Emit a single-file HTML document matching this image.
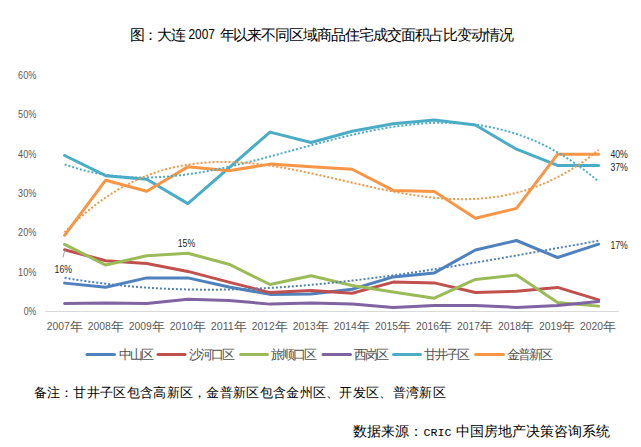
<!DOCTYPE html>
<html><head><meta charset="utf-8"><style>
html,body{margin:0;padding:0;background:#fff;}
body{width:641px;height:447px;overflow:hidden;position:relative;font-family:"Liberation Sans",sans-serif;}
svg{position:absolute;left:0;top:0;}
.ax text{font-size:10px;fill:#595959;}
.ax text.cj{font-size:12.5px;}
.lg text{font-size:12.5px;fill:#505050;}
.dl text{font-size:11px;fill:#262626;}
.t text{font-size:14.5px;fill:#000;}
</style></head><body>
<svg width="641" height="447" viewBox="0 0 641 447">
<g class="t">
<text x="129.5" y="40" textLength="56" lengthAdjust="spacing">图：大连</text>
<text x="188.5" y="39" textLength="26.5" lengthAdjust="spacingAndGlyphs">2007</text>
<text x="219.5" y="40" textLength="294" lengthAdjust="spacing">年以来不同区域商品住宅成交面积占比变动情况</text>
</g>
<line x1="45" y1="311.5" x2="619" y2="311.5" stroke="#D9D9D9" stroke-width="1"/>
<g class="ax"><text x="23.8" y="315.0" textLength="12.5" lengthAdjust="spacingAndGlyphs">0%</text><text x="18.1" y="275.6" textLength="18.2" lengthAdjust="spacingAndGlyphs">10%</text><text x="18.1" y="236.3" textLength="18.2" lengthAdjust="spacingAndGlyphs">20%</text><text x="18.1" y="197.0" textLength="18.2" lengthAdjust="spacingAndGlyphs">30%</text><text x="18.1" y="157.7" textLength="18.2" lengthAdjust="spacingAndGlyphs">40%</text><text x="18.1" y="118.3" textLength="18.2" lengthAdjust="spacingAndGlyphs">50%</text><text x="18.1" y="79.0" textLength="18.2" lengthAdjust="spacingAndGlyphs">60%</text><text x="46.7" y="330" textLength="23" lengthAdjust="spacingAndGlyphs" style="font-size:10.5px">2007</text><text x="70.1" y="331.3" class="cj">年</text><text x="87.7" y="330" textLength="23" lengthAdjust="spacingAndGlyphs" style="font-size:10.5px">2008</text><text x="111.1" y="331.3" class="cj">年</text><text x="128.7" y="330" textLength="23" lengthAdjust="spacingAndGlyphs" style="font-size:10.5px">2009</text><text x="152.1" y="331.3" class="cj">年</text><text x="169.8" y="330" textLength="23" lengthAdjust="spacingAndGlyphs" style="font-size:10.5px">2010</text><text x="193.2" y="331.3" class="cj">年</text><text x="210.8" y="330" textLength="23" lengthAdjust="spacingAndGlyphs" style="font-size:10.5px">2011</text><text x="234.2" y="331.3" class="cj">年</text><text x="251.8" y="330" textLength="23" lengthAdjust="spacingAndGlyphs" style="font-size:10.5px">2012</text><text x="275.2" y="331.3" class="cj">年</text><text x="292.8" y="330" textLength="23" lengthAdjust="spacingAndGlyphs" style="font-size:10.5px">2013</text><text x="316.2" y="331.3" class="cj">年</text><text x="333.8" y="330" textLength="23" lengthAdjust="spacingAndGlyphs" style="font-size:10.5px">2014</text><text x="357.2" y="331.3" class="cj">年</text><text x="374.9" y="330" textLength="23" lengthAdjust="spacingAndGlyphs" style="font-size:10.5px">2015</text><text x="398.3" y="331.3" class="cj">年</text><text x="415.9" y="330" textLength="23" lengthAdjust="spacingAndGlyphs" style="font-size:10.5px">2016</text><text x="439.3" y="331.3" class="cj">年</text><text x="456.9" y="330" textLength="23" lengthAdjust="spacingAndGlyphs" style="font-size:10.5px">2017</text><text x="480.3" y="331.3" class="cj">年</text><text x="497.9" y="330" textLength="23" lengthAdjust="spacingAndGlyphs" style="font-size:10.5px">2018</text><text x="521.3" y="331.3" class="cj">年</text><text x="538.9" y="330" textLength="23" lengthAdjust="spacingAndGlyphs" style="font-size:10.5px">2019</text><text x="562.3" y="331.3" class="cj">年</text><text x="580.0" y="330" textLength="23" lengthAdjust="spacingAndGlyphs" style="font-size:10.5px">2020</text><text x="603.4" y="331.3" class="cj">年</text></g>
<polyline points="64.60,283.12 105.68,287.32 146.76,277.90 187.84,277.90 228.92,287.08 270.00,294.38 311.08,293.91 352.16,289.20 393.24,276.92 434.32,272.91 475.40,249.99 516.48,240.49 557.56,257.49 598.64,244.18" fill="none" stroke="#4F81BD" stroke-width="3" stroke-linejoin="round" stroke-linecap="round"/><polyline points="64.60,249.72 105.68,260.71 146.76,263.42 187.84,271.42 228.92,282.10 270.00,292.62 311.08,290.42 352.16,293.21 393.24,282.10 434.32,282.88 475.40,292.42 516.48,291.20 557.56,287.40 598.64,299.92" fill="none" stroke="#C0504D" stroke-width="3" stroke-linejoin="round" stroke-linecap="round"/><polyline points="64.60,244.30 105.68,265.06 146.76,255.68 187.84,253.21 228.92,264.20 270.00,284.49 311.08,275.82 352.16,285.51 393.24,291.99 434.32,298.19 475.40,279.39 516.48,275.11 557.56,302.39 598.64,306.12" fill="none" stroke="#9BBB59" stroke-width="3" stroke-linejoin="round" stroke-linecap="round"/><polyline points="64.60,303.41 105.68,302.90 146.76,303.61 187.84,299.21 228.92,300.39 270.00,304.12 311.08,302.90 352.16,304.12 393.24,307.41 434.32,305.41 475.40,305.41 516.48,307.41 557.56,305.41 598.64,301.61" fill="none" stroke="#8064A2" stroke-width="3" stroke-linejoin="round" stroke-linecap="round"/><polyline points="64.60,155.52 105.68,175.69 146.76,179.18 187.84,203.60 228.92,167.80 270.00,132.08 311.08,142.53 352.16,131.30 393.24,123.80 434.32,120.00 475.40,125.02 516.48,149.20 557.56,165.41 598.64,165.41" fill="none" stroke="#4BACC6" stroke-width="3" stroke-linejoin="round" stroke-linecap="round"/><polyline points="64.60,235.31 105.68,180.21 146.76,191.19 187.84,166.86 228.92,170.71 270.00,164.11 311.08,166.86 352.16,169.22 393.24,190.41 434.32,191.59 475.40,218.32 516.48,208.39 557.56,154.30 598.64,154.30" fill="none" stroke="#F79646" stroke-width="3" stroke-linejoin="round" stroke-linecap="round"/><path d="M64.60,164.32 L68.71,165.76 L72.82,167.10 L76.92,168.36 L81.03,169.53 L85.14,170.60 L89.25,171.60 L93.36,172.51 L97.46,173.34 L101.57,174.09 L105.68,174.76 L109.79,175.35 L113.90,175.87 L118.00,176.31 L122.11,176.69 L126.22,176.99 L130.33,177.22 L134.44,177.39 L138.54,177.49 L142.65,177.53 L146.76,177.51 L150.87,177.43 L154.98,177.29 L159.08,177.09 L163.19,176.84 L167.30,176.53 L171.41,176.17 L175.52,175.77 L179.62,175.31 L183.73,174.81 L187.84,174.26 L191.95,173.67 L196.06,173.04 L200.16,172.37 L204.27,171.66 L208.38,170.91 L212.49,170.13 L216.60,169.32 L220.70,168.47 L224.81,167.60 L228.92,166.69 L233.03,165.76 L237.14,164.81 L241.24,163.83 L245.35,162.83 L249.46,161.81 L253.57,160.78 L257.68,159.72 L261.78,158.66 L265.89,157.58 L270.00,156.49 L274.11,155.38 L278.22,154.28 L282.32,153.16 L286.43,152.04 L290.54,150.92 L294.65,149.79 L298.76,148.67 L302.86,147.55 L306.97,146.43 L311.08,145.32 L315.19,144.22 L319.30,143.12 L323.40,142.04 L327.51,140.96 L331.62,139.90 L335.73,138.86 L339.84,137.83 L343.94,136.83 L348.05,135.84 L352.16,134.88 L356.27,133.94 L360.38,133.02 L364.48,132.14 L368.59,131.28 L372.70,130.45 L376.81,129.66 L380.92,128.90 L385.02,128.17 L389.13,127.49 L393.24,126.84 L397.35,126.23 L401.46,125.67 L405.56,125.15 L409.67,124.68 L413.78,124.25 L417.89,123.87 L422.00,123.54 L426.10,123.27 L430.21,123.05 L434.32,122.89 L438.43,122.78 L442.54,122.74 L446.64,122.75 L450.75,122.83 L454.86,122.97 L458.97,123.18 L463.08,123.45 L467.18,123.80 L471.29,124.21 L475.40,124.70 L479.51,125.27 L483.62,125.91 L487.72,126.62 L491.83,127.42 L495.94,128.30 L500.05,129.26 L504.16,130.30 L508.26,131.44 L512.37,132.66 L516.48,133.96 L520.59,135.37 L524.70,136.86 L528.80,138.45 L532.91,140.13 L537.02,141.91 L541.13,143.80 L545.24,145.78 L549.34,147.87 L553.45,150.06 L557.56,152.36 L561.67,154.76 L565.78,157.28 L569.88,159.90 L573.99,162.64 L578.10,165.50 L582.21,168.47 L586.32,171.56 L590.42,174.77 L594.53,178.10 L598.64,181.56" fill="none" stroke="#4BACC6" stroke-width="2" stroke-dasharray="2 2"/><path d="M64.60,232.32 L68.71,228.19 L72.82,224.22 L76.92,220.39 L81.03,216.70 L85.14,213.16 L89.25,209.76 L93.36,206.50 L97.46,203.37 L101.57,200.38 L105.68,197.52 L109.79,194.79 L113.90,192.19 L118.00,189.72 L122.11,187.36 L126.22,185.13 L130.33,183.02 L134.44,181.02 L138.54,179.14 L142.65,177.37 L146.76,175.70 L150.87,174.15 L154.98,172.70 L159.08,171.36 L163.19,170.11 L167.30,168.96 L171.41,167.91 L175.52,166.95 L179.62,166.09 L183.73,165.31 L187.84,164.62 L191.95,164.02 L196.06,163.50 L200.16,163.05 L204.27,162.69 L208.38,162.40 L212.49,162.19 L216.60,162.05 L220.70,161.97 L224.81,161.97 L228.92,162.03 L233.03,162.15 L237.14,162.33 L241.24,162.57 L245.35,162.86 L249.46,163.21 L253.57,163.61 L257.68,164.05 L261.78,164.55 L265.89,165.09 L270.00,165.67 L274.11,166.29 L278.22,166.95 L282.32,167.64 L286.43,168.37 L290.54,169.13 L294.65,169.92 L298.76,170.73 L302.86,171.57 L306.97,172.43 L311.08,173.31 L315.19,174.20 L319.30,175.12 L323.40,176.04 L327.51,176.98 L331.62,177.92 L335.73,178.87 L339.84,179.83 L343.94,180.78 L348.05,181.74 L352.16,182.69 L356.27,183.64 L360.38,184.58 L364.48,185.51 L368.59,186.43 L372.70,187.34 L376.81,188.23 L380.92,189.10 L385.02,189.95 L389.13,190.77 L393.24,191.57 L397.35,192.35 L401.46,193.09 L405.56,193.81 L409.67,194.48 L413.78,195.13 L417.89,195.73 L422.00,196.29 L426.10,196.81 L430.21,197.29 L434.32,197.71 L438.43,198.09 L442.54,198.41 L446.64,198.68 L450.75,198.89 L454.86,199.05 L458.97,199.14 L463.08,199.17 L467.18,199.13 L471.29,199.03 L475.40,198.85 L479.51,198.61 L483.62,198.28 L487.72,197.89 L491.83,197.41 L495.94,196.85 L500.05,196.21 L504.16,195.48 L508.26,194.66 L512.37,193.75 L516.48,192.75 L520.59,191.66 L524.70,190.47 L528.80,189.18 L532.91,187.78 L537.02,186.29 L541.13,184.68 L545.24,182.97 L549.34,181.15 L553.45,179.22 L557.56,177.17 L561.67,175.00 L565.78,172.71 L569.88,170.30 L573.99,167.77 L578.10,165.11 L582.21,162.32 L586.32,159.41 L590.42,156.36 L594.53,153.17 L598.64,149.84" fill="none" stroke="#F79646" stroke-width="2" stroke-dasharray="2 2"/><path d="M64.60,277.73 L68.71,278.44 L72.82,279.12 L76.92,279.79 L81.03,280.43 L85.14,281.04 L89.25,281.64 L93.36,282.21 L97.46,282.76 L101.57,283.28 L105.68,283.78 L109.79,284.26 L113.90,284.72 L118.00,285.16 L122.11,285.58 L126.22,285.97 L130.33,286.34 L134.44,286.69 L138.54,287.03 L142.65,287.34 L146.76,287.63 L150.87,287.90 L154.98,288.15 L159.08,288.38 L163.19,288.59 L167.30,288.78 L171.41,288.95 L175.52,289.11 L179.62,289.24 L183.73,289.36 L187.84,289.46 L191.95,289.53 L196.06,289.60 L200.16,289.64 L204.27,289.67 L208.38,289.68 L212.49,289.67 L216.60,289.64 L220.70,289.60 L224.81,289.54 L228.92,289.47 L233.03,289.38 L237.14,289.27 L241.24,289.15 L245.35,289.01 L249.46,288.86 L253.57,288.69 L257.68,288.50 L261.78,288.30 L265.89,288.09 L270.00,287.86 L274.11,287.62 L278.22,287.37 L282.32,287.10 L286.43,286.81 L290.54,286.52 L294.65,286.21 L298.76,285.88 L302.86,285.55 L306.97,285.20 L311.08,284.84 L315.19,284.47 L319.30,284.08 L323.40,283.69 L327.51,283.28 L331.62,282.86 L335.73,282.43 L339.84,281.99 L343.94,281.54 L348.05,281.07 L352.16,280.60 L356.27,280.12 L360.38,279.62 L364.48,279.12 L368.59,278.61 L372.70,278.09 L376.81,277.56 L380.92,277.01 L385.02,276.47 L389.13,275.91 L393.24,275.34 L397.35,274.77 L401.46,274.19 L405.56,273.60 L409.67,273.00 L413.78,272.39 L417.89,271.78 L422.00,271.16 L426.10,270.53 L430.21,269.90 L434.32,269.26 L438.43,268.62 L442.54,267.97 L446.64,267.31 L450.75,266.65 L454.86,265.98 L458.97,265.30 L463.08,264.63 L467.18,263.94 L471.29,263.25 L475.40,262.56 L479.51,261.87 L483.62,261.17 L487.72,260.46 L491.83,259.75 L495.94,259.04 L500.05,258.33 L504.16,257.61 L508.26,256.89 L512.37,256.17 L516.48,255.44 L520.59,254.71 L524.70,253.98 L528.80,253.25 L532.91,252.52 L537.02,251.78 L541.13,251.05 L545.24,250.31 L549.34,249.57 L553.45,248.84 L557.56,248.10 L561.67,247.36 L565.78,246.62 L569.88,245.88 L573.99,245.14 L578.10,244.40 L582.21,243.67 L586.32,242.93 L590.42,242.20 L594.53,241.46 L598.64,240.73" fill="none" stroke="#4F81BD" stroke-width="2" stroke-dasharray="2 2"/>
<line x1="64.7" y1="250.4" x2="63" y2="257.4" stroke="#A6A6A6" stroke-width="1"/>
<g class="dl">
<text x="54.6" y="272.5" textLength="17.5" lengthAdjust="spacingAndGlyphs">16%</text>
<text x="177.7" y="246.5" textLength="17.5" lengthAdjust="spacingAndGlyphs">15%</text>
<text x="610.4" y="158" textLength="17.5" lengthAdjust="spacingAndGlyphs">40%</text>
<text x="610.4" y="171" textLength="17.5" lengthAdjust="spacingAndGlyphs">37%</text>
<text x="610.4" y="249" textLength="17.5" lengthAdjust="spacingAndGlyphs">17%</text>
</g>
<g class="lg"><line x1="87" y1="354.5" x2="114.5" y2="354.5" stroke="#4F81BD" stroke-width="3" stroke-linecap="round"/><text x="118.5" y="359.3" textLength="35.1" lengthAdjust="spacing">中山区</text><line x1="158" y1="354.5" x2="185" y2="354.5" stroke="#C0504D" stroke-width="3" stroke-linecap="round"/><text x="188.5" y="359.3" textLength="46.8" lengthAdjust="spacing">沙河口区</text><line x1="240.5" y1="354.5" x2="267.5" y2="354.5" stroke="#9BBB59" stroke-width="3" stroke-linecap="round"/><text x="270.5" y="359.3" textLength="46.8" lengthAdjust="spacing">旅顺口区</text><line x1="323" y1="354.5" x2="350.5" y2="354.5" stroke="#8064A2" stroke-width="3" stroke-linecap="round"/><text x="354" y="359.3" textLength="35.1" lengthAdjust="spacing">西岗区</text><line x1="393.5" y1="354.5" x2="420.5" y2="354.5" stroke="#4BACC6" stroke-width="3" stroke-linecap="round"/><text x="423.5" y="359.3" textLength="46.8" lengthAdjust="spacing">甘井子区</text><line x1="475.5" y1="354.5" x2="503.5" y2="354.5" stroke="#F79646" stroke-width="3" stroke-linecap="round"/><text x="506.5" y="359.3" textLength="46.8" lengthAdjust="spacing">金普新区</text></g>
<text x="33.5" y="396.5" style="font-size:13px;fill:#000" textLength="412" lengthAdjust="spacing">备注：甘井子区包含高新区，金普新区包含金州区、开发区、普湾新区</text>
<text x="353" y="436.3" style="font-size:14px;fill:#000" textLength="69.5" lengthAdjust="spacing">数据来源：</text>
<text x="423.5" y="435.5" style="font-size:11px;fill:#000;font-family:'Liberation Mono',monospace" textLength="28" lengthAdjust="spacingAndGlyphs">CRIC</text>
<text x="455.5" y="436.3" style="font-size:14px;fill:#000" textLength="154" lengthAdjust="spacing">中国房地产决策咨询系统</text>
</svg>
</body></html>
